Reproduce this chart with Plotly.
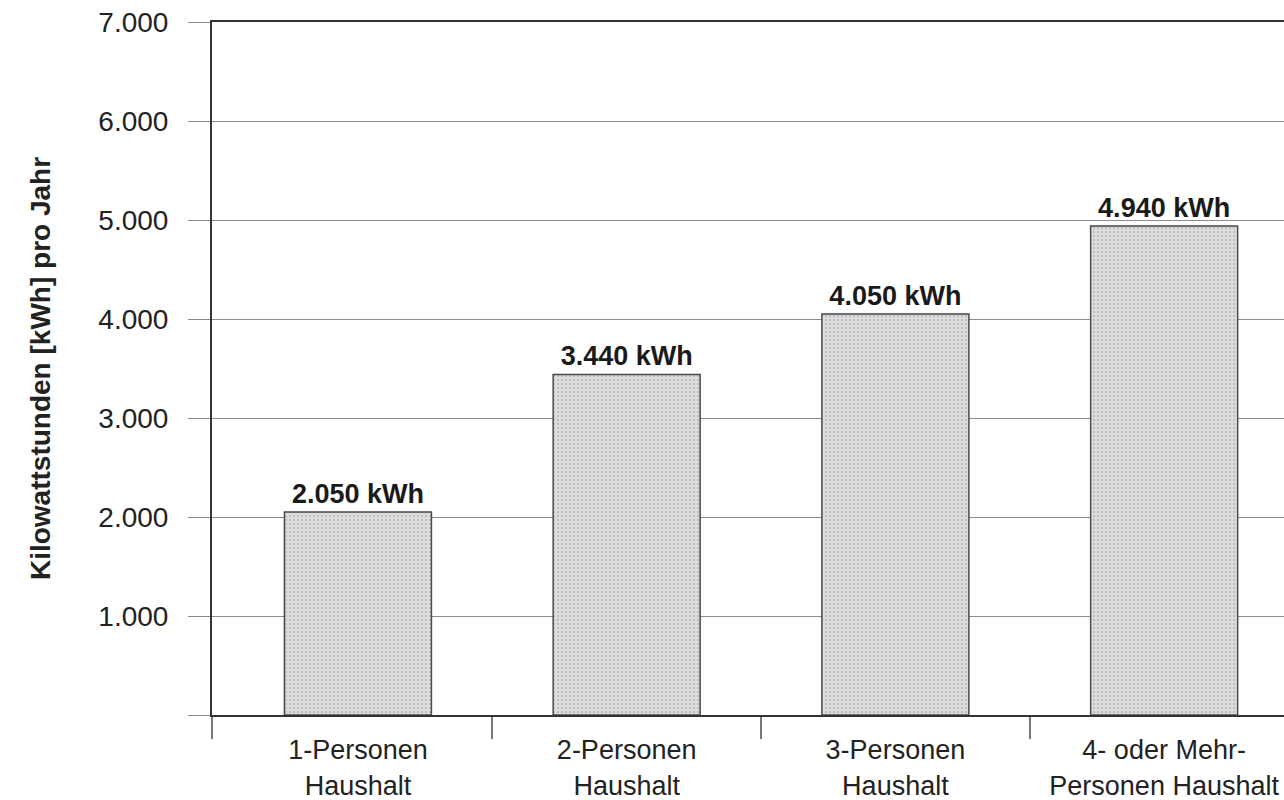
import plotly.graph_objects as go

# Annual electricity consumption by household size
categories = ["1-Personen<br>Haushalt", "2-Personen<br>Haushalt",
              "3-Personen<br>Haushalt", "4- oder Mehr-<br>Personen Haushalt"]
values_kwh = [2050, 3440, 4050, 4940]
y_ticks = [0, 1000, 2000, 3000, 4000, 5000, 6000, 7000]
y_ticklabels = ["", "1.000", "2.000", "3.000", "4.000", "5.000", "6.000", "7.000"]

x_pos = list(range(len(categories)))
x_range = [-0.543, 3.446]
boundaries = [x_range[0]] + [i + 0.5 for i in x_pos[:-1]]

FONT = "Liberation Sans, Arial, sans-serif"

fig = go.Figure(
    go.Bar(
        x=x_pos,
        y=values_kwh,
        width=0.547,
        marker=dict(
            color="#d6d6d6",
            line=dict(color="#4a4a4a", width=1.5),
            pattern=dict(shape=".", size=4, solidity=0.3,
                         fgcolor="#a0a0a0", bgcolor="#dedede"),
        ),
        texttemplate="<b>%{y:,d} kWh</b>",
        textposition="outside",
        textfont=dict(family=FONT, size=27, color="#1a1a1a"),
        cliponaxis=False,
        hoverinfo="skip",
    )
)

fig.update_layout(
    width=1284,
    height=800,
    margin=dict(l=212, r=0, t=22, b=85),
    paper_bgcolor="white",
    plot_bgcolor="white",
    separators=",.",
    showlegend=False,
    font=dict(family=FONT, size=27, color="#222222"),
)

fig.update_xaxes(
    range=x_range,
    tickvals=x_pos,
    ticktext=categories,
    ticks="",
    ticklabelstandoff=10,
    showgrid=False,
    zeroline=False,
    showline=True,
    linecolor="#333333",
    linewidth=2,
    mirror=True,
    tickfont=dict(family=FONT, size=27, color="#222222"),
    minor=dict(tickvals=boundaries, ticks="outside", ticklen=22,
               tickcolor="#777777", tickwidth=1.5, showgrid=False),
)

fig.update_yaxes(
    range=[0, 7000],
    tickvals=y_ticks,
    ticktext=y_ticklabels,
    ticks="outside",
    ticklen=22,
    tickcolor="#888888",
    tickwidth=1,
    ticklabelstandoff=14,
    showgrid=True,
    gridcolor="#8c8c8c",
    gridwidth=1,
    zeroline=False,
    showline=True,
    linecolor="#333333",
    linewidth=2,
    tickfont=dict(family=FONT, size=28, color="#222222"),
    title=dict(text="<b>Kilowattstunden [kWh] pro Jahr</b>",
               font=dict(family=FONT, size=28, color="#222222"),
               standoff=40),
)

fig.write_html("out.html")
